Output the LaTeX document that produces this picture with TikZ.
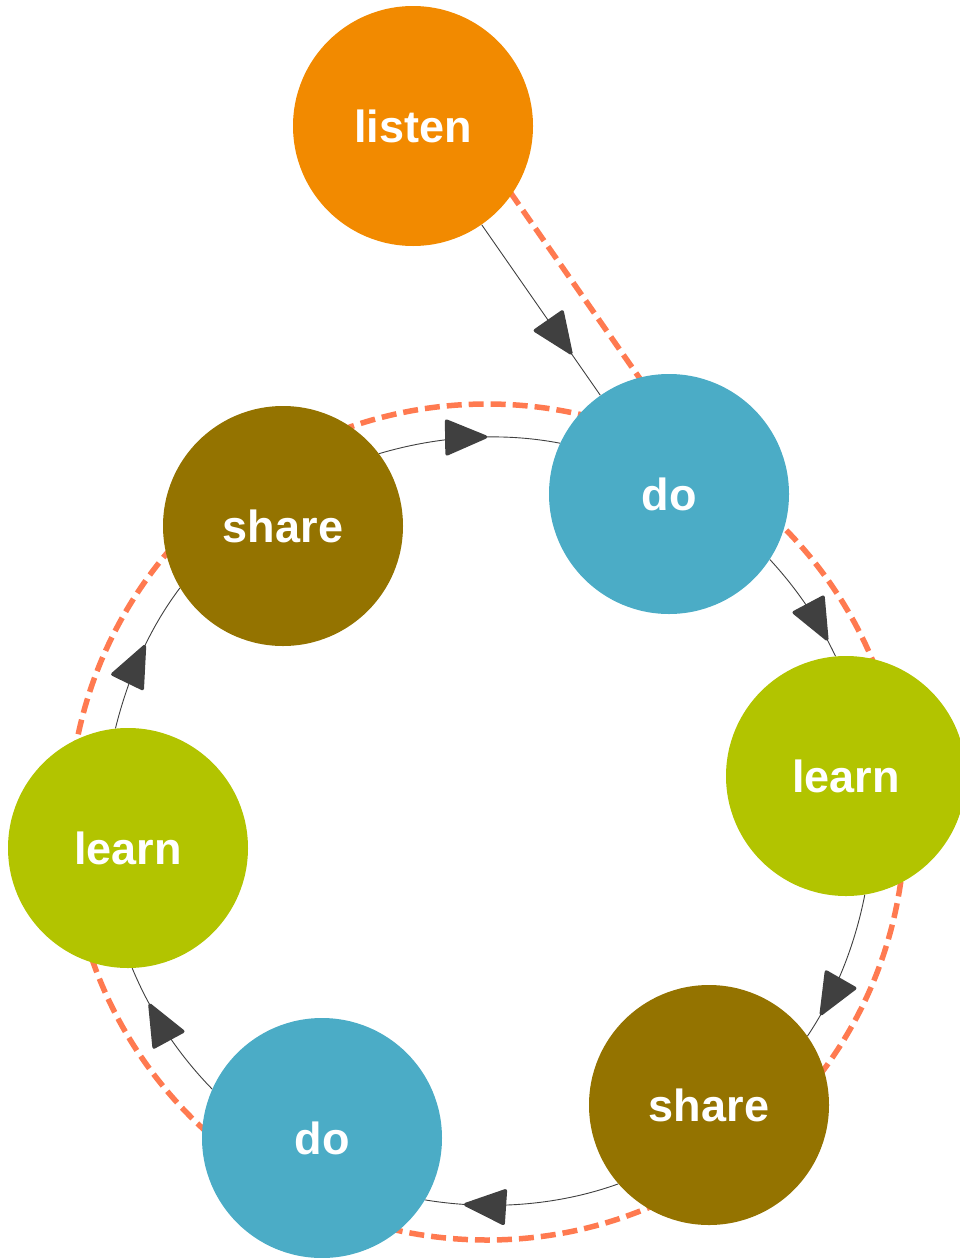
\documentclass[tikz,border=0pt]{standalone}
\usepackage{fontspec}
\setmainfont{Liberation Sans}
\usetikzlibrary{arrows.meta,decorations.markings,backgrounds,calc}
\definecolor{cOrange}{HTML}{F28A00}
\definecolor{cBlue}{HTML}{4BACC6}
\definecolor{cLime}{HTML}{B2C400}
\definecolor{cBrown}{HTML}{947300}
\definecolor{cDash}{HTML}{FF7A50}
\definecolor{cArrow}{HTML}{404040}
\begin{document}
\begin{tikzpicture}[x=1pt,y=1pt,
  stage/.style={circle, minimum size=240pt, inner sep=0pt, text=white,
    font=\fontsize{45}{45}\selectfont\bfseries},
  flow/.style={draw=cArrow, line width=0.9pt, looseness=0.86, postaction={decorate},
    decoration={markings, mark=at position #1 with
      {\arrow[cArrow]{Triangle[length=45pt,width=37pt,line width=3.5pt,round]}}}},
  ring/.style={draw=cDash, line width=5.5pt, dash pattern=on 15pt off 7pt}
]
\useasboundingbox (0,0) rectangle (959,-1258);
\node[stage, fill=cOrange] (listen) at (413,-126) {\raisebox{-1pt}{listen}};
\node[stage, fill=cBlue]   (do1)    at (669,-494) {\raisebox{-1pt}{do}};
\node[stage, fill=cLime]   (learn1) at (846,-776) {\raisebox{-2pt}{learn}};
\node[stage, fill=cBrown]  (share1) at (709,-1105) {\raisebox{-2pt}{share}};
\node[stage, fill=cBlue]   (do2)    at (322,-1138) {\raisebox{-1pt}{do}};
\node[stage, fill=cLime]   (learn2) at (128,-848) {\raisebox{-2pt}{learn}};
\node[stage, fill=cBrown]  (share2) at (283,-526) {\raisebox{-2pt}{share}};
\coordinate (hub) at (487,-822);
\begin{scope}[on background layer]
  \draw[ring] (hub) circle[radius=418];
  \draw[ring] ($(listen)!42pt!90:(do1)$) -- ($(do1)!42pt!-90:(listen)$);
  \draw[flow=0.76] (listen) -- (do1);
  \draw[flow=0.85] (do1.-33.6) to[out=-47.3, in=115.3] (learn1.95.7);
  \draw[flow=0.84] (learn1.-81.5) to[out=-101.1, in=56.2] (share1.35.9);
  \draw[flow=0.8] (share1.-139.9) to[out=-160.2, in=-9.3] (do2.-31);
  \draw[flow=0.73] (do2.156) to[out=134.3, in=292.5] (learn2.272);
  \draw[flow=0.57] (learn2.96.6) to[out=76.1, in=232.9] (share2.211.8);
  \draw[flow=0.6] (share2.37.6) to[out=16.5, in=169.1] (do1.155.4);
\end{scope}
\end{tikzpicture}
\end{document}
